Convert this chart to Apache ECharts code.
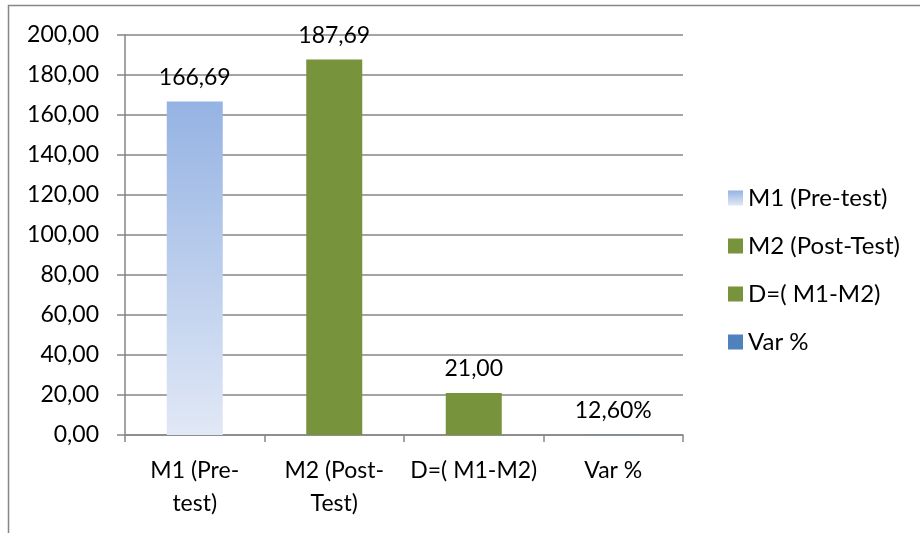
<!DOCTYPE html>
<html>
<head>
<meta charset="utf-8">
<script src="https://cdn.jsdelivr.net/npm/echarts@6/dist/echarts.min.js"></script>
<style>
html,body{margin:0;padding:0;background:#fff;}
#chart{width:920px;height:533px;}
</style>
</head>
<body>
<div id="chart"></div>
<script>
var seriesNames = ['M1 (Pre-test)', 'M2 (Post-Test)', 'D=( M1-M2)', 'Var %'];
var xLabels = ['M1 (Pre-\ntest)', 'M2 (Post-\nTest)', 'D=( M1-M2)', 'Var %'];
var values = [166.69, 187.69, 21.00, 0.126];
var yTicks = [0, 20, 40, 60, 80, 100, 120, 140, 160, 180, 200];

var FONT = 'Lato';
var colors = [
  {type:'linear', x:0, y:0, x2:0, y2:1, colorStops:[{offset:0,color:'#95B3E3'},{offset:1,color:'#E1E8F6'}]},
  '#77933C', '#77933C', '#4F81BD'
];

function fmt(v, i) {
  if (i === 3) return (v * 100).toFixed(2).replace('.', ',') + '%';
  return v.toFixed(2).replace('.', ',');
}

var series = seriesNames.map(function (name, i) {
  var d = values.map(function (v, j) { return j === i ? v : '-'; });
  return {
    name: name,
    type: 'bar',
    stack: 'all',
    barWidth: 56,
    data: d,
    itemStyle: {color: colors[i]},
    label: {
      show: true,
      position: 'top',
      distance: 13,
      color: '#000',
      fontFamily: FONT,
      fontSize: 23,
      formatter: function (p) { return fmt(p.value, i); }
    }
  };
});

var chart = echarts.init(document.getElementById('chart'), null, {renderer:'canvas'});
chart.setOption({
  animation: false,
  backgroundColor: '#fff',
  graphic: [{
    type: 'rect',
    shape: {x: 8.5, y: 5.5, width: 1000, height: 1000},
    style: {fill: 'none', stroke: '#868686', lineWidth: 1.5},
    silent: true
  }],
  grid: {left: 125, right: 237, top: 35, bottom: 98, containLabel: false},
  legend: {
    orient: 'vertical',
    left: 723,
    top: 181,
    itemWidth: 15,
    itemHeight: 15,
    itemGap: 24,
    icon: 'rect',
    textStyle: {fontFamily: FONT, fontSize: 24, color: '#000'},
    data: seriesNames
  },
  xAxis: {
    type: 'category',
    data: xLabels,
    axisLine: {lineStyle: {color: '#868686', width: 1.5}},
    axisTick: {show: true, length: 7, alignWithLabel: false, lineStyle: {color: '#868686', width: 1.5}},
    axisLabel: {color: '#000', fontFamily: FONT, fontSize: 23, margin: 19, lineHeight: 33, interval: 0}
  },
  yAxis: {
    type: 'value',
    min: 0,
    max: 200,
    interval: 20,
    axisLine: {show: true, lineStyle: {color: '#868686', width: 1.5}},
    axisTick: {show: true, length: 8, lineStyle: {color: '#868686', width: 1.5}},
    splitLine: {lineStyle: {color: '#868686', width: 1.5}},
    axisLabel: {
      color: '#000', fontFamily: FONT, fontSize: 23, margin: 26,
      formatter: function (v) { return yTicks.indexOf(v) >= 0 ? v.toFixed(2).replace('.', ',') : ''; }
    }
  },
  series: series
});
</script>
</body>
</html>
